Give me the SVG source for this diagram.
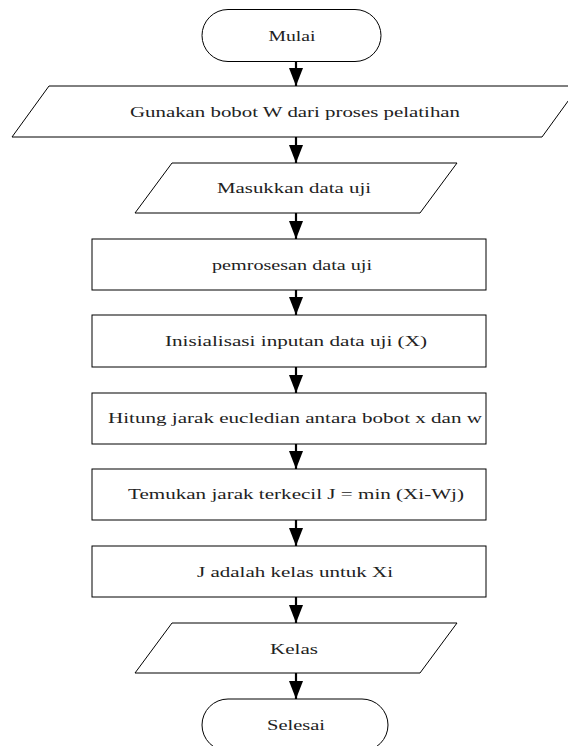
<svg xmlns="http://www.w3.org/2000/svg" width="568" height="746" viewBox="0 0 568 746">
<style>
.s{fill:#fff;stroke:#000;stroke-width:1}
.t{font-family:"Liberation Serif","Times New Roman",serif;font-size:14px;fill:#222;text-anchor:middle;dominant-baseline:central}
.c{stroke:#000;stroke-width:2.2;fill:none}
</style>
<defs>
<marker id="ah" markerUnits="userSpaceOnUse" markerWidth="18" markerHeight="14" refX="18" refY="7" orient="auto" viewBox="0 0 18 14">
<path d="M0,0 L18,7 L0,14 Z" fill="#000"/>
</marker>
</defs>
<rect width="568" height="746" fill="#fff"/>
<g id="connectors">
<line class="c" x1="296" y1="61" x2="296" y2="86" marker-end="url(#ah)"/>
<line class="c" x1="296" y1="137" x2="296" y2="163" marker-end="url(#ah)"/>
<line class="c" x1="296" y1="213" x2="296" y2="239" marker-end="url(#ah)"/>
<line class="c" x1="296" y1="290" x2="296" y2="315" marker-end="url(#ah)"/>
<line class="c" x1="296" y1="367" x2="296" y2="393" marker-end="url(#ah)"/>
<line class="c" x1="296" y1="444" x2="296" y2="469" marker-end="url(#ah)"/>
<line class="c" x1="296" y1="520" x2="296" y2="546" marker-end="url(#ah)"/>
<line class="c" x1="296" y1="597" x2="296" y2="623" marker-end="url(#ah)"/>
<line class="c" x1="296" y1="673" x2="296" y2="699" marker-end="url(#ah)"/>
</g>
<g id="mulai">
<rect class="s" x="202" y="9.5" width="179" height="52" rx="26" ry="26"/>
<text class="t" x="292" y="36" textLength="47" lengthAdjust="spacingAndGlyphs">Mulai</text>
</g>
<g id="gunakan">
<polygon class="s" points="49,86 579,86 542,137 12,137"/>
<text class="t" x="295" y="112" textLength="330" lengthAdjust="spacingAndGlyphs">Gunakan bobot W dari proses pelatihan</text>
</g>
<g id="masukkan">
<polygon class="s" points="172,163 457,163 420,213 135,213"/>
<text class="t" x="294" y="188" textLength="154" lengthAdjust="spacingAndGlyphs">Masukkan data uji</text>
</g>
<g id="pemrosesan">
<rect class="s" x="92" y="239" width="394" height="51"/>
<text class="t" x="292" y="265" textLength="160" lengthAdjust="spacingAndGlyphs">pemrosesan data uji</text>
</g>
<g id="inisialisasi">
<rect class="s" x="92" y="315" width="394" height="52"/>
<text class="t" x="296" y="341" textLength="262" lengthAdjust="spacingAndGlyphs">Inisialisasi inputan data uji (X)</text>
</g>
<g id="hitung">
<rect class="s" x="92" y="393" width="394" height="51"/>
<text class="t" x="295" y="418" textLength="374" lengthAdjust="spacingAndGlyphs">Hitung jarak eucledian antara bobot x dan w</text>
</g>
<g id="temukan">
<rect class="s" x="92" y="469" width="394" height="51"/>
<text class="t" x="296" y="494" textLength="336" lengthAdjust="spacingAndGlyphs">Temukan jarak terkecil J = min (Xi-Wj)</text>
</g>
<g id="jadalah">
<rect class="s" x="92" y="546" width="394" height="51"/>
<text class="t" x="295" y="572" textLength="196" lengthAdjust="spacingAndGlyphs">J adalah kelas untuk Xi</text>
</g>
<g id="kelas">
<polygon class="s" points="172,623 457,623 420,673 135,673"/>
<text class="t" x="294" y="649" textLength="48" lengthAdjust="spacingAndGlyphs">Kelas</text>
</g>
<g id="selesai">
<rect class="s" x="202" y="699" width="186" height="52" rx="26" ry="26"/>
<text class="t" x="296" y="725" textLength="58" lengthAdjust="spacingAndGlyphs">Selesai</text>
</g>
</svg>
